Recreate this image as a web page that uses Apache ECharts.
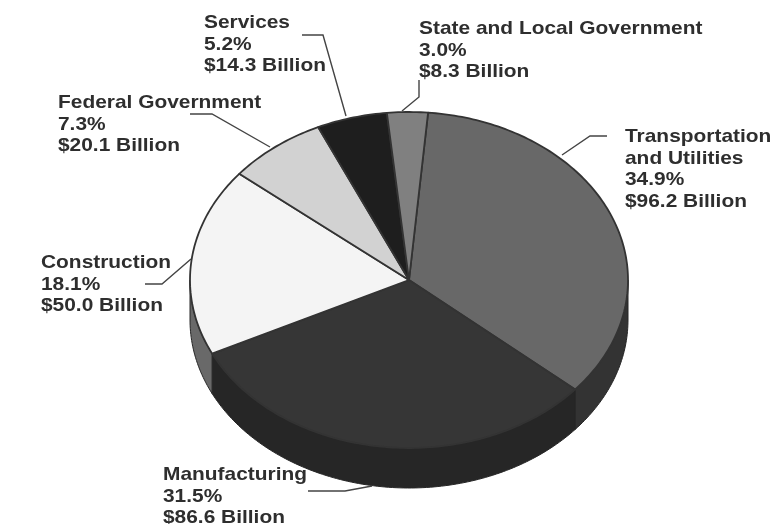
<!DOCTYPE html>
<html><head><meta charset="utf-8">
<style>html,body{margin:0;padding:0;background:#fff}#c{width:770px;height:524px;filter:blur(0.6px)}</style>
<script src="https://cdn.jsdelivr.net/npm/echarts@6/dist/echarts.min.js"></script>
</head><body><div id="c"></div>
<script>
const categories = ['Transportation\nand Utilities','Manufacturing','Construction','Federal Government','Services','State and Local Government'];
const percents = [34.9,31.5,18.1,7.3,5.2,3.0];
const billions = [96.2,86.6,50.0,20.1,14.3,8.3];
const topColors = ['#686868','#363636','#f4f4f4','#d2d2d2','#1e1e1e','#808080'];
const sideColors = ['#333333','#262626','#696969','#999999','#111111','#555555'];
// layout
const cx=409, cy=280, rx=219, ry=168, depth=40, startDeg=5;
const labelPos = [[625,126.5],[163,464.5],[41,252.5],[58,92.5],[204,12.5],[419,18.5]];
const leaders = [
  [[607,136],[590,136],[562,155]],
  [[308,491],[345,491],[372,486]],
  [[145,284],[162,284],[191,259]],
  [[190,114],[212,114],[270,147]],
  [[302,35],[323,35],[346,116]],
  [[419,80],[419,97],[402,111]]
];
const total = percents.reduce((a,b)=>a+b,0);
const bounds = [startDeg];
percents.forEach(p=>bounds.push(bounds[bounds.length-1]+p/total*360));
function pt(deg,dy){const r=deg*Math.PI/180;return [cx+rx*Math.sin(r),cy-ry*Math.cos(r)+(dy||0)];}
function arc(a,b,dy){const pts=[];const n=Math.max(2,Math.ceil(Math.abs(b-a)));for(let i=0;i<=n;i++)pts.push(pt(a+(b-a)*i/n,dy));return pts;}
const idx = percents.map((p,i)=>[i,p]);
const chart = echarts.init(document.getElementById('c'),null,{renderer:'canvas'});
chart.setOption({
  animation:false,
  series:[
    {type:'custom',coordinateSystem:'none',silent:true,z:1,data:idx,renderItem(params,api){
      const i=api.value(0);
      const a=Math.max(bounds[i],90), b=Math.min(bounds[i+1],270);
      if(b<=a) return {type:'group',children:[]};
      const up=arc(a,b,0), down=arc(b,a,depth);
      return {type:'polygon',shape:{points:up.concat(down)},style:{fill:sideColors[i],stroke:'#262626',lineWidth:1}};
    }},
    {type:'custom',coordinateSystem:'none',silent:true,z:2,data:idx,renderItem(params,api){
      const i=api.value(0);
      const pts=[[cx,cy]].concat(arc(bounds[i],bounds[i+1],0));
      return {type:'polygon',shape:{points:pts},style:{fill:topColors[i],stroke:'#333',lineWidth:1.8,lineJoin:'round'}};
    }},
    {type:'custom',coordinateSystem:'none',silent:true,z:3,data:idx,renderItem(params,api){
      const i=api.value(0);
      return {type:'group',children:[
        {type:'polyline',shape:{points:leaders[i]},style:{fill:null,stroke:'#444',lineWidth:1.4}},
        {type:'text',x:labelPos[i][0],y:labelPos[i][1],scaleX:1.1,style:{
          text:categories[i]+'\n'+api.value(1).toFixed(1)+'%\n$'+billions[i].toFixed(1)+' Billion',
          fill:'#2e2e2e',font:'bold 19px "Liberation Sans", Arial, sans-serif',lineHeight:21.5,align:'left',verticalAlign:'top'}}
      ]};
    }}
  ]
});
</script></body></html>
